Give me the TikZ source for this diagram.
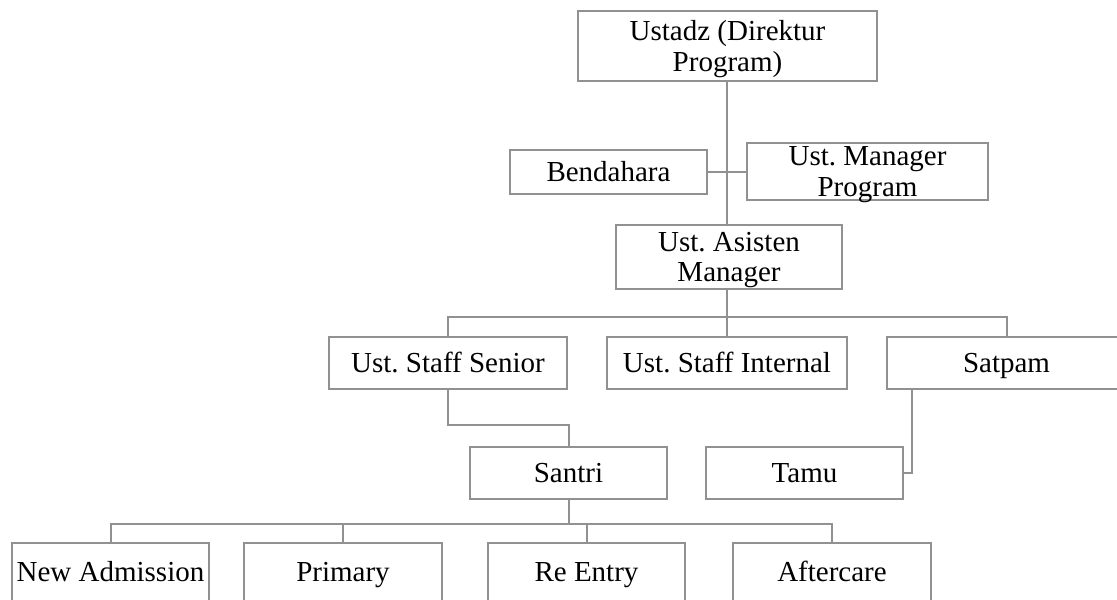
\documentclass[tikz,border=0pt]{standalone}
\usepackage{fontspec}
\setmainfont{Liberation Serif}
\definecolor{boxgray}{RGB}{145,145,145}
\begin{document}
\frenchspacing
\begin{tikzpicture}[x=1pt,y=-1pt,
  box/.style={draw=boxgray, line width=2pt, rectangle, inner sep=0pt,
              font=\fontsize{29}{30.5}\selectfont},
  one/.style={text height=19.7pt, text depth=0pt},
  two/.style={align=center, text depth=0pt},
  size/.style 2 args={minimum width=#1pt, minimum height=#2pt},
  link/.style={draw=boxgray, line width=2pt}]
\useasboundingbox (0,0) rectangle (1117,600);

% top of the chart
\node[box, two, size={299}{70}] (dir) at (727.5,46) {Ustadz (Direktur\\Program)};
\node[box, one, size={197}{44}] (bend) at (608.5,171.5) {Bendahara};
\node[box, two, size={241}{57}] (mgr) at (867.5,171.5) {Ust. Manager\\Program};
\node[box, two, size={226}{64}] (asst) at (729,257) {Ust. Asisten\\Manager};

% staff row
\node[box, one, size={238}{52}] (senior) at (448,363) {Ust. Staff Senior};
\node[box, one, size={240}{52}] (internal) at (727,363) {Ust. Staff Internal};
\node[box, one, size={239}{52}] (satpam) at (1006.5,363) {Satpam};

% santri and guests
\node[box, one, size={197}{52}] (santri) at (568.5,473) {Santri};
\node[box, one, size={197}{52}] (tamu) at (804.5,473) {Tamu};

% programme row
\node[box, one, size={197}{58}] (newadm) at (110.5,572) {New Admission};
\node[box, one, size={198}{58}] (primary) at (343,572) {Primary};
\node[box, one, size={197}{58}] (reentry) at (586.5,572) {Re Entry};
\node[box, one, size={198}{58}] (after) at (832,572) {Aftercare};

% connectors
\coordinate (stembot) at (726.7,225);
\draw[link] (dir.south -| stembot) -- (asst.north -| stembot);
\draw[link] (bend.east) -- (mgr.west);

\coordinate (bus1) at (0,316.7);
\draw[link] (asst.south -| stembot) -- (bus1 -| stembot);
\draw[link] (senior.north) -- (senior.north |- bus1) -- (satpam.north |- bus1) -- (satpam.north);
\draw[link] (internal.north -| stembot) -- (bus1 -| stembot);

\coordinate (jog) at (0,425);
\draw[link] (senior.south) -- (senior.south |- jog) -- (santri.north |- jog) -- (santri.north);

\coordinate (gate) at (911.7,0);
\draw[link] (satpam.south -| gate) -- (tamu.east -| gate) -- (tamu.east);

\coordinate (bus2) at (0,524);
\draw[link] (santri.south) -- (santri.south |- bus2);
\draw[link] (newadm.north) -- (newadm.north |- bus2) -- (after.north |- bus2) -- (after.north);
\draw[link] (primary.north) -- (primary.north |- bus2);
\draw[link] (reentry.north) -- (reentry.north |- bus2);
\end{tikzpicture}
\end{document}
